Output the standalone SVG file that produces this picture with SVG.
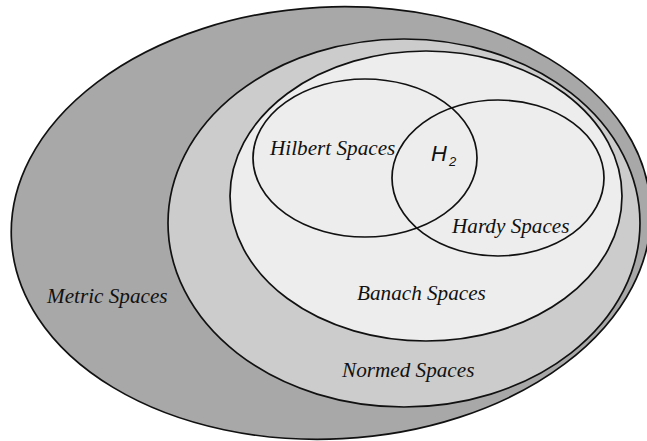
<svg xmlns="http://www.w3.org/2000/svg" width="647" height="441" viewBox="0 0 647 441">
  <style>
    .set { stroke: #111; stroke-width: 1.7; }
    .lbl { font-family: "Liberation Serif", "Times New Roman", serif; font-style: italic; font-size: 21.2px; fill: #111; }
    .sans { font-family: "Liberation Sans", Arial, sans-serif; fill: #111; }
  </style>
  <rect x="0" y="0" width="647" height="441" fill="#ffffff"/>
  <g id="metric">
    <ellipse class="set" cx="331" cy="223" rx="320" ry="216" transform="rotate(-3 331 223)" fill="#a8a8a8"/>
    <text class="lbl" x="47" y="303">Metric Spaces</text>
  </g>
  <g id="normed">
    <ellipse class="set" cx="404" cy="223" rx="236" ry="184" fill="#cccccc"/>
    <text class="lbl" x="342" y="377">Normed Spaces</text>
  </g>
  <g id="banach">
    <ellipse class="set" cx="426" cy="196" rx="196" ry="145" fill="#ededed"/>
    <text class="lbl" x="357" y="300">Banach Spaces</text>
  </g>
  <g id="hilbert">
    <ellipse class="set" cx="365" cy="158" rx="112" ry="79" fill="none"/>
    <text class="lbl" x="270" y="155">Hilbert Spaces</text>
  </g>
  <g id="hardy">
    <ellipse class="set" cx="498" cy="178" rx="106" ry="78" fill="none"/>
    <text class="lbl" x="452" y="233">Hardy Spaces</text>
  </g>
  <g id="h2">
    <text class="sans" x="431" y="161" font-size="22" font-style="italic">H<tspan font-size="13" dx="2" dy="5">2</tspan></text>
  </g>
  <g id="connectors"/>
</svg>
